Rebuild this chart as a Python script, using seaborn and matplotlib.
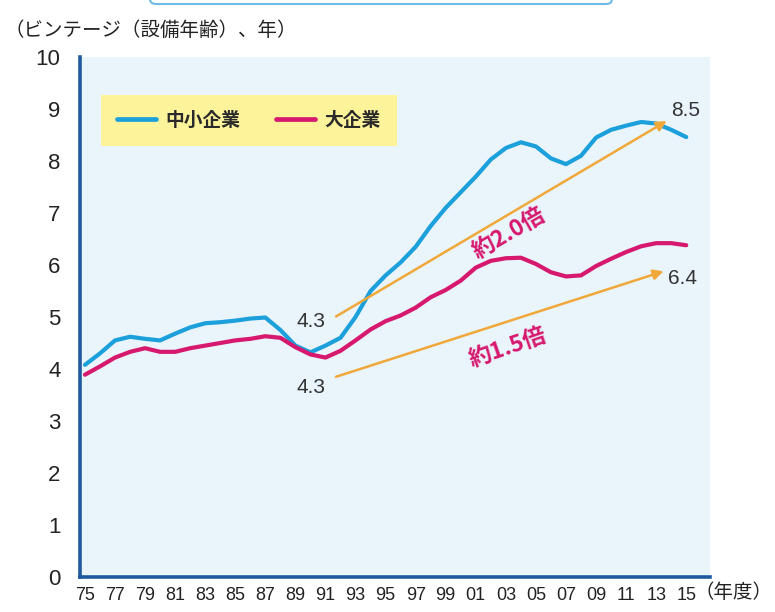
import numpy as np
import pandas as pd
import seaborn as sns
import matplotlib.pyplot as plt
from matplotlib.lines import Line2D
from matplotlib.patches import FancyBboxPatch

# Data (fiscal years 1975-2015)
years = list(range(1975, 2016))
sme_age = [4.08, 4.30, 4.55, 4.62, 4.58, 4.55, 4.68, 4.80, 4.88, 4.90,
           4.93, 4.97, 4.99, 4.75, 4.45, 4.32, 4.45, 4.60, 5.00, 5.50,
           5.80, 6.05, 6.35, 6.75, 7.10, 7.40, 7.70, 8.03, 8.25, 8.36,
           8.28, 8.05, 7.94, 8.10, 8.45, 8.60, 8.68, 8.75, 8.72, 8.60,
           8.46]
large_age = [3.89, 4.05, 4.22, 4.33, 4.40, 4.33, 4.33, 4.40, 4.45, 4.50,
             4.55, 4.58, 4.63, 4.60, 4.42, 4.28, 4.22, 4.35, 4.55, 4.76,
             4.92, 5.03, 5.18, 5.38, 5.52, 5.70, 5.95, 6.08, 6.13, 6.14,
             6.02, 5.86, 5.78, 5.80, 5.98, 6.12, 6.25, 6.36, 6.42, 6.42,
             6.38]
series_names = ["中小企業", "大企業"]
tick_years = list(range(1975, 2016, 2))
tick_labels = [f"{y % 100:02d}" for y in tick_years]
y_ticks = list(range(0, 11))

# growth arrows: (start year, start value, end year, end value)
arrows = [(1991.7, 5.01, 2013.7, 8.77), (1991.7, 3.85, 2013.5, 5.88)]
growth_labels = ["約2.0倍", "約1.5倍"]
start_labels = ["4.3", "4.3"]
end_labels = ["8.5", "6.4"]

df = pd.DataFrame({
    "year": years * 2,
    "age": sme_age + large_age,
    "kind": [series_names[0]] * len(years) + [series_names[1]] * len(years),
})

sns.set_style("white")
plt.rcParams['font.family'] = ['Noto Sans CJK JP', 'DejaVu Sans']

BLUE = "#1BA0DC"
RED = "#D6186E"
ORANGE = "#F0A83A"
SPINE = "#1F5A9E"

fig = plt.figure(figsize=(7.75, 6.12), dpi=100)
ax = fig.add_axes([80 / 775, 1 - 577 / 612, 630 / 775, 520 / 612])
ax.set_facecolor("#E9F4FB")

sns.lineplot(data=df, x="year", y="age", hue="kind",
             palette={series_names[0]: BLUE, series_names[1]: RED},
             linewidth=3.0, ax=ax, legend=False)

ax.set_xlim(1974.67, 2016.58)
ax.set_ylim(0, 10)
ax.set_xticks(tick_years)
ax.set_xticklabels(tick_labels, family=['Liberation Sans Narrow', 'Liberation Sans'],
                   fontsize=13, color="#222222")
ax.set_yticks(y_ticks)
ax.set_yticklabels([str(v) for v in y_ticks], family=['Liberation Sans'],
                   fontsize=16, color="#222222")
ax.tick_params(axis="x", length=0, pad=7)
ax.tick_params(axis="y", length=0, pad=14)
ax.set_xlabel("")
ax.set_ylabel("")

for side in ["top", "right"]:
    ax.spines[side].set_visible(False)
for side in ["left", "bottom"]:
    ax.spines[side].set_color(SPINE)
    ax.spines[side].set_linewidth(2.6)

# legend
handles = [Line2D([0], [0], color=BLUE, lw=3.4),
           Line2D([0], [0], color=RED, lw=3.4)]
leg = ax.legend(handles, series_names, ncol=2, loc="upper left",
                bbox_to_anchor=(0.018, 0.945), frameon=True, fancybox=False,
                handlelength=2.1, handletextpad=0.5, columnspacing=1.9,
                borderpad=0.85, prop={"size": 13.5, "weight": "bold"})
leg.get_frame().set_facecolor("#FCF39B")
leg.get_frame().set_edgecolor("none")
leg.get_frame().set_alpha(1)
for t in leg.get_texts():
    t.set_color("#2A2A2A")

# arrows and labels
start_offsets = [-0.1, -0.2]
end_offsets = [0.21, -0.13]
for (x0, y0, x1, y1), s, e, so, eo in zip(arrows, start_labels, end_labels,
                                          start_offsets, end_offsets):
    ax.annotate("", xy=(x1, y1), xytext=(x0, y0),
                arrowprops=dict(arrowstyle="-|>,head_length=0.6,head_width=0.3",
                                color=ORANGE, lw=1.8, shrinkA=0, shrinkB=0))
    ax.text(x0 - 0.7, y0 + so, s, ha="right", va="center", fontsize=15,
            family=['Liberation Sans'], color="#333333")
    ax.text(x1 + 1.25, y1 + eo, e, ha="center", va="center", fontsize=15,
            family=['Liberation Sans'], color="#333333")

ax.text(2003.2, 6.6, growth_labels[0], rotation=30, ha="center", va="center",
        fontsize=16.5, fontweight="bold", color=RED)
ax.text(2003.1, 4.4, growth_labels[1], rotation=19, ha="center", va="center",
        fontsize=16.5, fontweight="bold", color=RED)

fig.text(5 / 775, 1 - 30 / 612, "（ビンテージ（設備年齢）、年）", ha="left",
         va="center", fontsize=14, color="#222222")
fig.text(773 / 775, 1 - 592 / 612, "（年度）", ha="right", va="center",
         fontsize=14, color="#222222")

# partial title box at the very top
fig.patches.append(FancyBboxPatch((150 / 775, 1 - 4 / 612), 462 / 775, 0.06,
                                  boxstyle="round,pad=0,rounding_size=0.008",
                                  transform=fig.transFigure, facecolor="white",
                                  edgecolor="#6DBBE6", lw=1.5, zorder=0))

fig.savefig("out.png", dpi=100)
